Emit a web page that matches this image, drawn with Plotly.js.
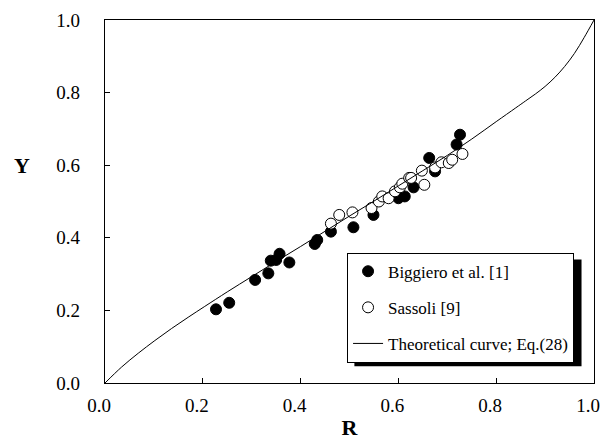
<!DOCTYPE html>
<html>
<head>
<meta charset="utf-8">
<script src="https://cdn.plot.ly/plotly-3.0.1.min.js"></script>
<style>html,body{margin:0;padding:0;background:#fff;}#chart{width:604px;height:440px;}</style>
</head>
<body>
<div id="chart"></div>
<script>
// Biggiero et al. [1]
const biggieroR = [0.227, 0.254, 0.307, 0.334, 0.339, 0.350, 0.357, 0.377, 0.429, 0.434, 0.462, 0.508, 0.549, 0.600, 0.613, 0.631, 0.663, 0.675, 0.719, 0.726];
const biggieroY = [0.203, 0.221, 0.284, 0.302, 0.337, 0.339, 0.356, 0.332, 0.383, 0.394, 0.417, 0.429, 0.463, 0.509, 0.514, 0.539, 0.620, 0.583, 0.657, 0.684];
// Sassoli [9]
const sassoliR = [0.462, 0.479, 0.506, 0.545, 0.560, 0.567, 0.580, 0.593, 0.603, 0.608, 0.622, 0.626, 0.648, 0.653, 0.675, 0.688, 0.703, 0.710, 0.731];
const sassoliY = [0.439, 0.463, 0.470, 0.482, 0.500, 0.514, 0.509, 0.528, 0.539, 0.549, 0.565, 0.565, 0.585, 0.546, 0.594, 0.608, 0.606, 0.615, 0.631];
// Theoretical curve; Eq.(28)
const curveR = [0, 0.034, 0.068, 0.102, 0.136, 0.170, 0.204, 0.25, 0.30, 0.35, 0.40, 0.45, 0.50, 0.55, 0.60, 0.65, 0.70, 0.75, 0.80, 0.84, 0.86, 0.88, 0.90, 0.92, 0.94, 0.96, 0.98, 1.0];
const curveY = [0, 0.044, 0.082, 0.117, 0.150, 0.181, 0.211, 0.251, 0.293, 0.335, 0.376, 0.418, 0.460, 0.501, 0.543, 0.585, 0.627, 0.672, 0.720, 0.758, 0.777, 0.796, 0.817, 0.842, 0.872, 0.908, 0.952, 1.0];
const tickVals = [0, 0.2, 0.4, 0.6, 0.8, 1.0];
const tickText = ['0.0', '0.2', '0.4', '0.6', '0.8', '1.0'];

const serif = 'Times New Roman';

const traces = [
  {x: biggieroR, y: biggieroY, mode: 'markers', type: 'scatter', name: 'Biggiero et al. [1]', legendgroup: 'a',
   marker: {color: '#000', size: 11, line: {color: '#000', width: 1}}},
  {x: sassoliR, y: sassoliY, mode: 'markers', type: 'scatter', name: 'Sassoli [9]', legendgroup: 'b',
   marker: {color: '#fff', size: 11, line: {color: '#000', width: 1}}},
  {x: curveR, y: curveY, mode: 'lines', type: 'scatter', name: 'Theoretical curve; Eq.(28)', legendgroup: 'c',
   line: {color: '#000', width: 1, shape: 'spline', smoothing: 1}}
];

function axisBase() {
  return {
    range: [0, 1], tickvals: tickVals, ticktext: tickText,
    ticks: 'inside', ticklen: 5, tickwidth: 1, tickcolor: '#000',
    showline: true, linecolor: '#000', linewidth: 1.3, mirror: true,
    showgrid: false, zeroline: false, ticklabeloverflow: 'allow',
    tickfont: {family: serif, size: 19, color: '#000'}
  };
}

const xa = axisBase();
xa.ticklabelstandoff = 5;
xa.ticklabelshift = -6;
xa.title = {text: '<b>R</b>', font: {family: serif, size: 22, color: '#000'}, standoff: 7};
const ya = axisBase();
ya.ticklabelstandoff = 20;

const layout = {
  width: 604, height: 440,
  margin: {l: 105, r: 10, t: 20, b: 57},
  paper_bgcolor: '#fff', plot_bgcolor: '#fff',
  font: {family: serif, color: '#000'},
  showlegend: true,
  xaxis: xa,
  yaxis: ya,
  legend: {
    x: 0.495, y: 0.359, xanchor: 'left', yanchor: 'top',
    bgcolor: '#fff', bordercolor: '#000', borderwidth: 1,
    font: {family: serif, size: 17, color: '#000'},
    traceorder: 'grouped', tracegroupgap: 11
  },
  annotations: [
    {text: '<b>Y</b>', xref: 'paper', yref: 'y', x: -0.17, y: 0.6, showarrow: false,
     xanchor: 'center', yanchor: 'middle', font: {family: serif, size: 22, color: '#000'}}
  ],
  shapes: [
    {type: 'rect', xref: 'paper', yref: 'paper', x0: 0.51, x1: 0.9745, y0: 0.046, y1: 0.34,
     fillcolor: '#000', line: {width: 0}, layer: 'above'}
  ]
};

Plotly.newPlot('chart', traces, layout, {displayModeBar: false, staticPlot: true});
</script>
</body>
</html>
